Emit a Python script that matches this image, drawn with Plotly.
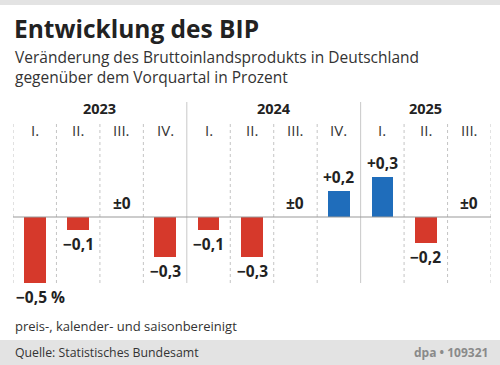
import plotly.graph_objects as go

quarters = ["I.", "II.", "III.", "IV.", "I.", "II.", "III.", "IV.", "I.", "II.", "III."]
values = [-0.5, -0.1, 0.0, -0.3, -0.1, -0.3, 0.0, 0.2, 0.3, -0.2, 0.0]
value_labels = ["−0,5 %", "−0,1", "±0", "−0,3", "−0,1", "−0,3", "±0", "+0,2", "+0,3", "−0,2", "±0"]
years = ["2023", "2024", "2025"]
year_centers = [1.5, 5.5, 9.0]
year_breaks = [3.5, 7.5]

RED = "#d6392b"
BLUE = "#1f6dbb"
FONT = "Open Sans"

W, H = 500, 365
L, R, T, B = 13, 9, 122, 82
PW = W - L - R
PH = H - T - B


def px_x(px):
    return (px - L) / PW


def px_y(py):
    return (H - B - py) / PH


n = len(values)
colors = [BLUE if v > 0 else RED for v in values]

fig = go.Figure()
fig.add_trace(go.Bar(
    x=list(range(n)), y=values, marker=dict(color=colors, line=dict(width=0)),
    width=0.5, hoverinfo="skip", showlegend=False,
))

shapes = []
# background bands
shapes.append(dict(type="rect", xref="paper", yref="paper", x0=px_x(0), x1=px_x(W),
                   y0=px_y(0), y1=px_y(5), fillcolor="#e3e3e3", line=dict(width=0), layer="below"))
shapes.append(dict(type="rect", xref="paper", yref="paper", x0=px_x(0), x1=px_x(W),
                   y0=px_y(340), y1=px_y(H), fillcolor="#e3e3e3", line=dict(width=0), layer="below"))
# dotted column separators
for i in range(n + 1):
    xb = i - 0.5
    if xb in year_breaks:
        shapes.append(dict(type="line", xref="x", yref="paper", x0=xb, x1=xb, y0=0, y1=px_y(102),
                           line=dict(color="#c8c8c8", width=1), layer="below"))
    else:
        shapes.append(dict(type="line", xref="x", yref="paper", x0=xb, x1=xb, y0=0, y1=1,
                           line=dict(color="#c4c4c4", width=1, dash="dot"), layer="below"))
# zero line
shapes.append(dict(type="line", xref="x", yref="y", x0=-0.5, x1=n - 0.5, y0=0, y1=0,
                   line=dict(color="#9a9a9a", width=1.2)))

ann = []
ann.append(dict(text="<b>Entwicklung des BIP</b>", x=px_x(12), y=px_y(28), xref="paper", yref="paper",
                xanchor="left", yanchor="middle", showarrow=False,
                font=dict(family=FONT, size=24.5, color="#222")))
ann.append(dict(text="Veränderung des Bruttoinlandsprodukts in Deutschland<br>gegenüber dem Vorquartal in Prozent",
                x=px_x(13), y=px_y(67), xref="paper", yref="paper", xanchor="left", yanchor="middle",
                align="left", showarrow=False,
                font=dict(family=FONT, size=15.5, color="#333")))
for yr, xc in zip(years, year_centers):
    ann.append(dict(text="<b>" + yr + "</b>", x=xc, y=px_y(108), xref="x", yref="paper",
                    xanchor="center", yanchor="middle", showarrow=False,
                    font=dict(family=FONT, size=14.5, color="#222")))
for i, q in enumerate(quarters):
    ann.append(dict(text=q, x=i, y=px_y(130), xref="x", yref="paper",
                    xanchor="center", yanchor="middle", showarrow=False,
                    font=dict(family=FONT, size=15, color="#333")))
for i, (v, lab) in enumerate(zip(values, value_labels)):
    neg = v < 0
    ann.append(dict(text="<b>" + lab + "</b>", x=i, y=v, xref="x", yref="y",
                    xanchor="center", yanchor="top" if neg else "bottom",
                    yshift=-1 if neg else 1, xshift=6 if i == 0 else 0, showarrow=False,
                    font=dict(family=FONT, size=15.5, color="#222")))
ann.append(dict(text="preis-, kalender- und saisonbereinigt", x=px_x(13), y=px_y(326),
                xref="paper", yref="paper", xanchor="left", yanchor="middle", showarrow=False,
                font=dict(family=FONT, size=13, color="#333")))
ann.append(dict(text="Quelle: Statistisches Bundesamt", x=px_x(13), y=px_y(352),
                xref="paper", yref="paper", xanchor="left", yanchor="middle", showarrow=False,
                font=dict(family=FONT, size=12.3, color="#333")))
ann.append(dict(text="<b>dpa • 109321</b>", x=px_x(490), y=px_y(352),
                xref="paper", yref="paper", xanchor="right", yanchor="middle", showarrow=False,
                font=dict(family=FONT, size=12, color="#8a8a8a")))

fig.update_layout(
    width=W, height=H, margin=dict(l=L, r=R, t=T, b=B, pad=0),
    paper_bgcolor="white", plot_bgcolor="white",
    xaxis=dict(range=[-0.5, n - 0.5], visible=False, fixedrange=True),
    yaxis=dict(range=[-0.5, 95 / 132], visible=False, fixedrange=True),
    shapes=shapes, annotations=ann, bargap=0, showlegend=False,
)

fig.write_html("out.html", config={"displayModeBar": False},
               post_script="document.body.style.margin='0';document.body.style.overflow='hidden';")
